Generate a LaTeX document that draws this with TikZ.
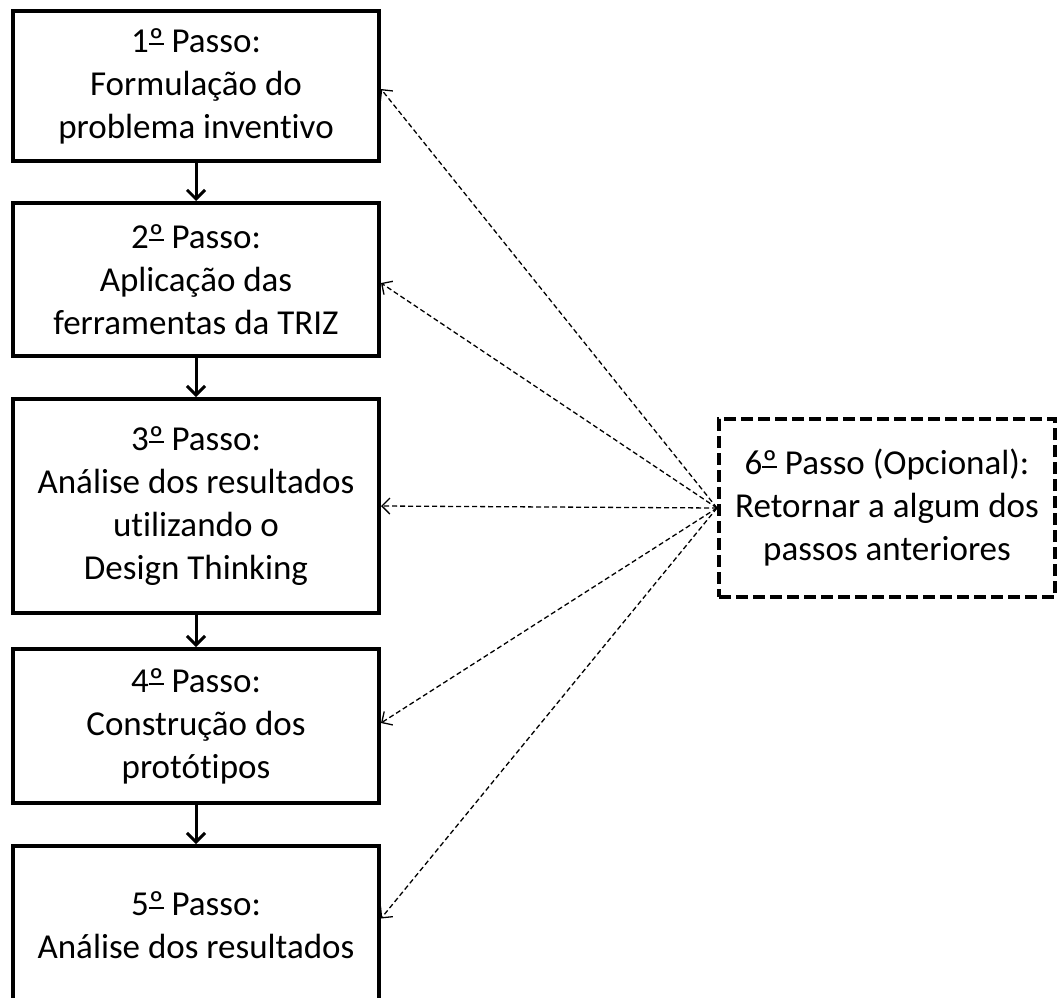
\documentclass[tikz,border=0pt]{standalone}
\usepackage{fontspec}
\setmainfont{Carlito}[Ligatures=NoCommon]
\usetikzlibrary{arrows.meta}
% ordinal indicator with its underline
\newcommand\ordo{{\setbox0\hbox{º}\copy0\hskip-\wd0\raisebox{0.2em}{\rule{\wd0}{0.06em}}}}
\begin{document}
\begin{tikzpicture}[x=1pt,y=-1pt,
  stepbox/.style={draw,line width=4pt,rectangle,inner sep=0pt,align=center,
    minimum width=366pt,font=\fontsize{35pt}{43pt}\selectfont},
  optbox/.style={draw,line width=4pt,dash pattern=on 12pt off 5pt,rectangle,inner sep=0pt,
    align=center,minimum width=336pt,minimum height=178pt,font=\fontsize{35pt}{43pt}\selectfont},
  flow/.style={line width=3pt,-{Straight Barb[length=9pt,width=18pt,line width=3pt]}},
  back/.style={line width=1.3pt,dash pattern=on 5pt off 3pt,
    -{Straight Barb[length=8pt,width=16pt,line width=1.3pt]}}]
\useasboundingbox (0,0) rectangle (1057,998);
\fill[white] (0,0) rectangle (1057,998);

% main sequence of steps
\node[stepbox,minimum height=150pt] (b1) at (196,86) {1\ordo{} Passo:\\Formulação do\\problema inventivo};
\node[stepbox,minimum height=153pt] (b2) at (196,279.5) {2\ordo{} Passo:\\Aplicação das\\ferramentas da TRIZ};
\node[stepbox,minimum height=214pt] (b3) at (196,506) {3\ordo{} Passo:\\Análise dos resultados\\utilizando o\\Design Thinking};
\node[stepbox,minimum height=154pt] (b4) at (196,726) {4\ordo{} Passo:\\Construção dos\\protótipos};
\node[stepbox,minimum height=159pt] (b5) at (196,925.5) {5\ordo{} Passo:\\Análise dos resultados};

% optional step
\node[optbox] (b6) at (887,508) {6\ordo{} Passo (Opcional):\\Retornar a algum dos\\passos anteriores};

% forward flow
\draw[flow] (b1.south) -- (b2.north);
\draw[flow] (b2.south) -- (b3.north);
\draw[flow] (b3.south) -- (b4.north);
\draw[flow] (b4.south) -- (b5.north);

% return paths
\draw[back] (b6.west) -- ([yshift=-3pt]b1.east);
\draw[back] (b6.west) -- ([yshift=-3.5pt]b2.east);
\draw[back] (b6.west) -- (b3.east);
\draw[back] (b6.west) -- ([yshift=3pt]b4.east);
\draw[back] (b6.west) -- ([yshift=7pt]b5.east);
\end{tikzpicture}
\end{document}
